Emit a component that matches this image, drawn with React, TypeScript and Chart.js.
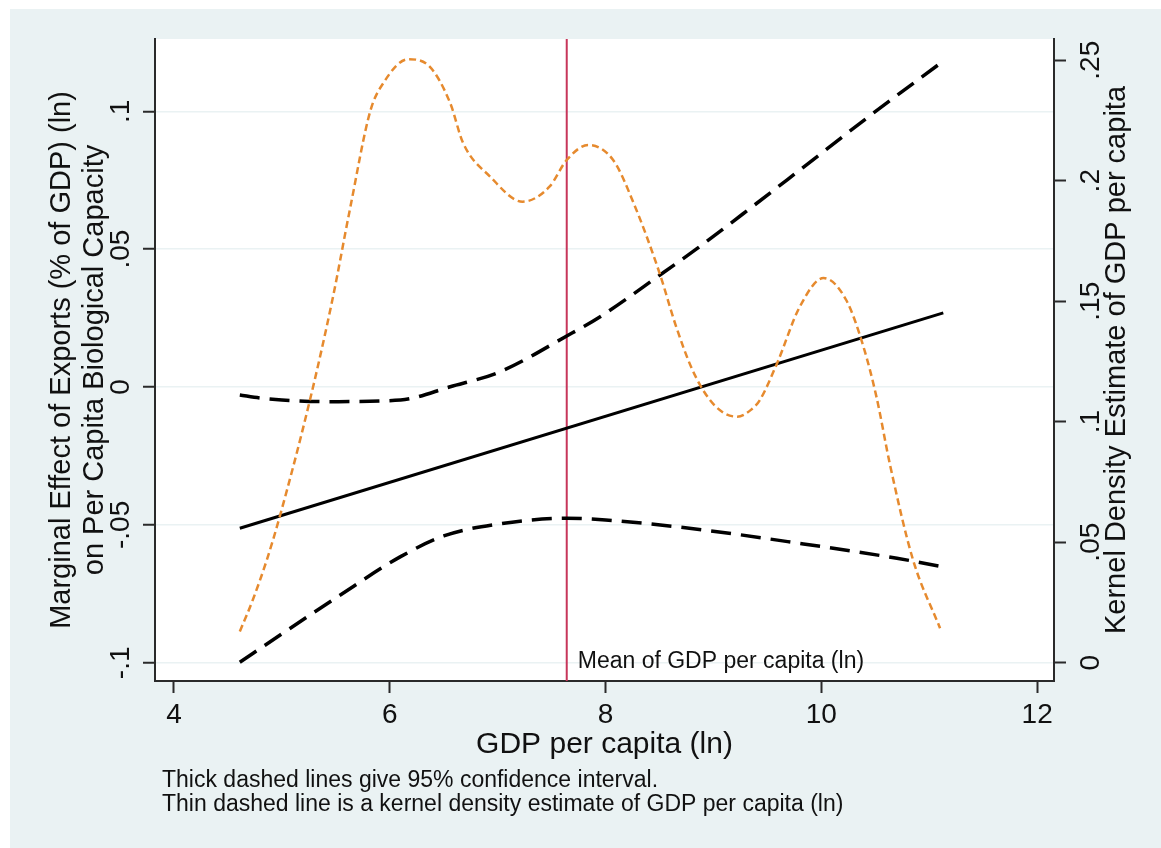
import React, { useEffect, useRef } from "react";
import { Chart, registerables } from "chart.js";

Chart.register(...registerables);

// ---- Axis ticks ----
const xTicks = [4, 6, 8, 10, 12];
const yTicks = [-0.1, -0.05, 0, 0.05, 0.1];
const yTickLabels = ["-.1", "-.05", "0", ".05", ".1"];
const y2Ticks = [0, 0.05, 0.1, 0.15, 0.2, 0.25];
const y2TickLabels = ["0", ".05", ".1", ".15", ".2", ".25"];

// ---- Marginal effect (solid) ----
const fitX = [4.61, 11.13];
const fitY = [-0.0512, 0.0269];

// ---- Upper 95% CI (thick dashed) ----
const upperX = [4.61, 4.8, 5.0, 5.45, 6.1, 6.56, 7.02, 7.64, 7.95, 8.5, 8.84, 9.34, 9.81, 10.42, 11.13];
const upperY = [-0.0029, -0.004, -0.0047, -0.0053, -0.0047, 0.0001, 0.0055, 0.0185, 0.0255, 0.0405, 0.05, 0.0648, 0.079, 0.0975, 0.1182];

// ---- Lower 95% CI (thick dashed) ----
const lowerX = [4.61, 5.0, 5.5, 6.1, 6.5, 7.0, 7.64, 8.0, 8.9, 9.8, 10.7, 11.13];
const lowerY = [-0.0998, -0.0895, -0.0765, -0.0615, -0.054, -0.0497, -0.0476, -0.0482, -0.0518, -0.0567, -0.0621, -0.0652];

// ---- Kernel density of GDP per capita (thin dashed, right axis) ----
const densX = [4.61, 4.73, 4.86, 4.98, 5.26, 5.47, 5.63, 5.82, 5.94, 6.17, 6.37, 6.56, 6.68, 6.93, 7.23, 7.48, 7.64, 7.84, 8.07, 8.26, 8.5, 8.65, 8.8, 8.95, 9.1, 9.22, 9.35, 9.43, 9.59, 9.8, 10.02, 10.23, 10.39, 10.51, 10.64, 10.85, 11.1];
const densY = [0.0129, 0.026, 0.0426, 0.0606, 0.109, 0.151, 0.188, 0.229, 0.2405, 0.2504, 0.2473, 0.2322, 0.2156, 0.2017, 0.1913, 0.1975, 0.2086, 0.2148, 0.2086, 0.1907, 0.1617, 0.14, 0.122, 0.11, 0.1035, 0.1021, 0.105, 0.109, 0.1243, 0.1477, 0.1596, 0.1505, 0.1311, 0.1104, 0.0813, 0.0426, 0.0143];

const meanGdp = 7.64;

const xTitle = "GDP per capita (ln)";
const yTitle = ["Marginal Effect of Exports (% of GDP) (ln)", "on Per Capita Biological Capacity"];
const y2Title = "Kernel Density Estimate of GDP per capita";
const meanLabel = "Mean of GDP per capita (ln)";
const notes = [
  "Thick dashed lines give 95% confidence interval.",
  "Thin dashed line is a kernel density estimate of GDP per capita (ln)",
];

const FONT = "'Liberation Sans', Arial, Helvetica, sans-serif";
const TEXT = "#111111";
const AXIS = "#2a2a2a";
const BG = "#eaf2f3";

const pts = (xs: number[], ys: number[]) => xs.map((x, i) => ({ x, y: ys[i] }));

export default function App() {
  const ref = useRef<HTMLCanvasElement>(null);

  useEffect(() => {
    if (!ref.current) return;

    const bgPlugin = {
      id: "bgPlugin",
      beforeDraw(chart: any) {
        const { ctx, width, height, chartArea } = chart;
        ctx.save();
        ctx.fillStyle = "#ffffff";
        ctx.fillRect(0, 0, width, height);
        ctx.fillStyle = BG;
        ctx.fillRect(10, 9, width - 10, height - 9);
        ctx.fillStyle = "#ffffff";
        ctx.fillRect(chartArea.left, chartArea.top, chartArea.right - chartArea.left, chartArea.bottom - chartArea.top);
        ctx.restore();
      },
    };

    const meanPlugin = {
      id: "meanPlugin",
      beforeDatasetsDraw(chart: any) {
        const { ctx, chartArea } = chart;
        const px = chart.scales.x.getPixelForValue(meanGdp);
        ctx.save();
        ctx.strokeStyle = "#c7365a";
        ctx.lineWidth = 2;
        ctx.beginPath();
        ctx.moveTo(px, chartArea.top);
        ctx.lineTo(px, chartArea.bottom);
        ctx.stroke();
        ctx.fillStyle = TEXT;
        ctx.font = `23px ${FONT}`;
        ctx.textAlign = "left";
        ctx.textBaseline = "middle";
        ctx.fillText(meanLabel, px + 11, chartArea.bottom - 19);
        ctx.restore();
      },
    };

    const textPlugin = {
      id: "textPlugin",
      afterDraw(chart: any) {
        const { ctx, chartArea } = chart;
        ctx.save();
        ctx.fillStyle = TEXT;
        ctx.font = `29px ${FONT}`;
        ctx.textAlign = "center";
        ctx.textBaseline = "middle";
        ctx.translate(chartArea.right + 63, (chartArea.top + chartArea.bottom) / 2);
        ctx.rotate(-Math.PI / 2);
        ctx.fillText(y2Title, 0, 0);
        ctx.restore();

        ctx.save();
        ctx.fillStyle = TEXT;
        ctx.font = `23px ${FONT}`;
        ctx.textAlign = "left";
        ctx.textBaseline = "middle";
        ctx.fillText(notes[0], 162, 781);
        ctx.fillText(notes[1], 162, 805);
        ctx.restore();
      },
    };

    const chart = new Chart(ref.current, {
      type: "line",
      data: {
        datasets: [
          {
            data: pts(densX, densY),
            yAxisID: "y2",
            borderColor: "#e68a2e",
            borderWidth: 2.5,
            borderDash: [7, 4],
            pointRadius: 0,
            cubicInterpolationMode: "monotone",
            fill: false,
          },
          {
            data: pts(upperX, upperY),
            yAxisID: "y",
            borderColor: "#000000",
            borderWidth: 3.5,
            borderDash: [20, 10],
            pointRadius: 0,
            cubicInterpolationMode: "monotone",
            fill: false,
          },
          {
            data: pts(lowerX, lowerY),
            yAxisID: "y",
            borderColor: "#000000",
            borderWidth: 3.5,
            borderDash: [20, 10],
            pointRadius: 0,
            cubicInterpolationMode: "monotone",
            fill: false,
          },
          {
            data: pts(fitX, fitY),
            yAxisID: "y",
            borderColor: "#000000",
            borderWidth: 3,
            pointRadius: 0,
            fill: false,
          },
        ],
      },
      options: {
        responsive: false,
        animation: false,
        events: [],
        layout: { padding: { top: 39, left: 0, right: 0, bottom: 0 } },
        plugins: { legend: { display: false }, tooltip: { enabled: false } },
        scales: {
          x: {
            type: "linear",
            position: "bottom",
            min: 3.824,
            max: 12.156,
            afterFit: (s: any) => { s.height = 167; },
            afterBuildTicks: (s: any) => { s.ticks = xTicks.map((v) => ({ value: v })); },
            grid: { drawOnChartArea: false, drawTicks: true, tickLength: 12, tickColor: AXIS, tickWidth: 2 },
            border: { display: true, color: AXIS, width: 2 },
            ticks: {
              font: { family: FONT, size: 28 },
              color: TEXT,
              padding: 5,
              maxRotation: 0,
              autoSkip: false,
              callback: (v: any) => String(v),
            },
            title: {
              display: true,
              text: xTitle,
              color: TEXT,
              font: { family: FONT, size: 30 },
              padding: { top: 0, bottom: 85 },
            },
          },
          y: {
            type: "linear",
            position: "left",
            min: -0.1066,
            max: 0.1262,
            afterFit: (s: any) => { s.width = 155; },
            afterBuildTicks: (s: any) => { s.ticks = yTicks.map((v) => ({ value: v })); },
            grid: { color: BG, lineWidth: 1.5, drawTicks: true, tickLength: 12, tickColor: AXIS, tickWidth: 2 },
            border: { display: true, color: AXIS, width: 2 },
            ticks: {
              font: { family: FONT, size: 28 },
              color: TEXT,
              minRotation: 90,
              maxRotation: 90,
              crossAlign: "center",
              padding: -2,
              autoSkip: false,
              callback: (v: any) => yTickLabels[yTicks.indexOf(v)] ?? String(v),
            },
            title: {
              display: true,
              text: yTitle,
              color: TEXT,
              font: { family: FONT, size: 29, lineHeight: 1.15 },
              padding: { top: 45, bottom: 0 },
            },
          },
          y2: {
            type: "linear",
            position: "right",
            min: -0.0076,
            max: 0.2588,
            afterFit: (s: any) => { s.width = 107; },
            afterBuildTicks: (s: any) => { s.ticks = y2Ticks.map((v) => ({ value: v })); },
            grid: { drawOnChartArea: false, drawTicks: true, tickLength: 12, tickColor: AXIS, tickWidth: 2 },
            border: { display: true, color: AXIS, width: 2 },
            ticks: {
              font: { family: FONT, size: 28 },
              color: TEXT,
              minRotation: 90,
              maxRotation: 90,
              crossAlign: "center",
              padding: 6,
              autoSkip: false,
              callback: (v: any) => y2TickLabels[y2Ticks.indexOf(v)] ?? String(v),
            },
          },
        },
      },
      plugins: [bgPlugin, meanPlugin, textPlugin],
    } as any);

    return () => chart.destroy();
  }, []);

  return (
    <div style={{ position: "absolute", left: 0, top: 0, width: 1161, height: 848 }}>
      <canvas ref={ref} width={1161} height={848} style={{ display: "block" }} />
    </div>
  );
}
